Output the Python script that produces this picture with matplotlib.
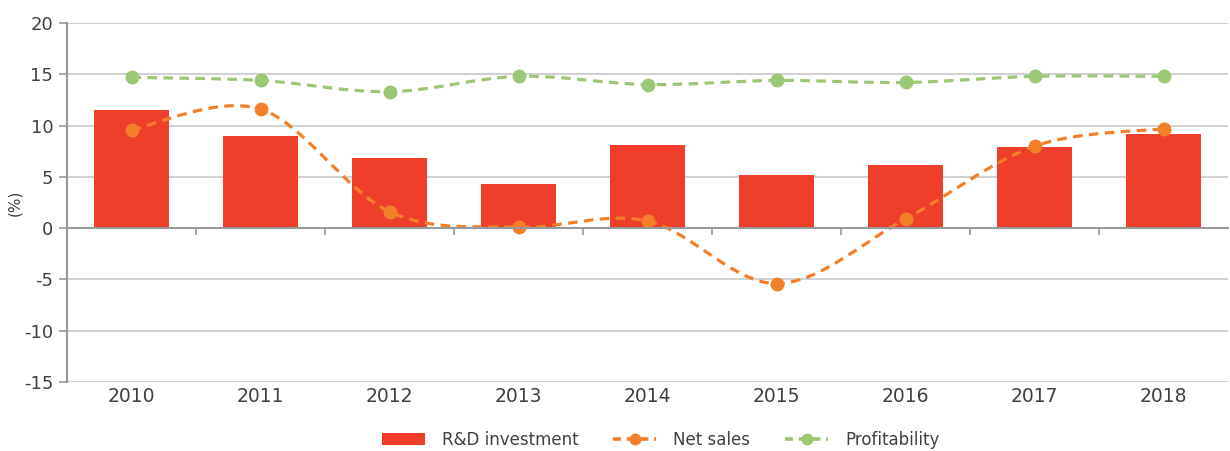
import numpy as np
import matplotlib
matplotlib.use("Agg")
import matplotlib.pyplot as plt
from matplotlib.path import Path
from matplotlib.patches import PathPatch, Patch
from matplotlib.lines import Line2D
from matplotlib.transforms import blended_transform_factory

years = ["2010", "2011", "2012", "2013", "2014", "2015", "2016", "2017", "2018"]
rd_investment = [11.5, 9.0, 6.8, 4.3, 8.1, 5.2, 6.2, 7.9, 9.2]
net_sales = [9.6, 11.6, 1.6, 0.1, 0.7, -5.4, 0.9, 8.0, 9.7]
profitability = [14.7, 14.4, 13.3, 14.8, 14.0, 14.4, 14.2, 14.8, 14.8]

c_bar = "#EF3F2B"
c_sales = "#F47F2B"
c_prof = "#9CC774"
txt = "#404040"


def smooth_path(x, y, t=1/6):
    # Excel-like smooth line: cubic Bezier segments with Catmull-Rom tangents
    x = np.asarray(x, float)
    y = np.asarray(y, float)
    n = len(x)
    verts = [(x[0], y[0])]
    codes = [Path.MOVETO]
    for i in range(n - 1):
        p0 = (x[i - 1], y[i - 1]) if i > 0 else (x[i], y[i])
        p1 = (x[i], y[i])
        p2 = (x[i + 1], y[i + 1])
        p3 = (x[i + 2], y[i + 2]) if i + 2 < n else (x[i + 1], y[i + 1])
        c1 = (p1[0] + (p2[0] - p0[0]) * t, p1[1] + (p2[1] - p0[1]) * t)
        c2 = (p2[0] - (p3[0] - p1[0]) * t, p2[1] - (p3[1] - p1[1]) * t)
        verts += [c1, c2, p2]
        codes += [Path.CURVE4] * 3
    return Path(verts, codes)


fig = plt.figure(figsize=(12.3, 4.51), dpi=100)
ax = fig.add_axes([0.0545, 0.153, 0.944, 0.796])

x = np.arange(len(years))
ax.bar(x, rd_investment, width=0.58, color=c_bar, zorder=2)

for vals, col in [(net_sales, c_sales), (profitability, c_prof)]:
    ax.add_patch(PathPatch(smooth_path(x, vals), fill=False, edgecolor=col,
                           lw=2.3, linestyle=(0, (3, 2)), zorder=3,
                           capstyle="butt"))
    ax.plot(x, vals, "o", color=col, ms=9, zorder=4)

ax.set_xlim(-0.5, len(years) - 0.5)
ax.set_ylim(-15, 20)
ax.set_yticks(np.arange(-15, 21, 5))
ax.set_yticklabels([str(v) for v in range(-15, 21, 5)])
ax.yaxis.grid(True, color="#C8C8C8", lw=1.2, zorder=0)
ax.set_axisbelow(True)

for s in ["top", "right"]:
    ax.spines[s].set_visible(False)
ax.spines["left"].set_color("#999999")
ax.spines["left"].set_linewidth(1.5)
ax.spines["bottom"].set_position(("data", 0))
ax.spines["bottom"].set_color("#999999")
ax.spines["bottom"].set_linewidth(1.5)
ax.spines["bottom"].set_zorder(5)

ax.set_xticks(x)
ax.set_xticks(np.arange(0.5, len(years) - 0.5, 1), minor=True)
ax.tick_params(axis="x", which="major", length=0)
ax.tick_params(axis="x", which="minor", length=5, color="#999999", width=1.2)
ax.set_xticklabels([])
ax.tick_params(axis="y", length=6, color="#999999", width=1.2, labelsize=13,
               labelcolor=txt, pad=4)

# year labels below the plot area
tr = blended_transform_factory(ax.transData, ax.transAxes)
for xi, yr in zip(x, years):
    ax.text(xi, -0.04, yr, transform=tr, ha="center", va="center",
            fontsize=13.5, color=txt)

ax.set_ylabel("(%)", fontsize=11, color=txt)
ax.yaxis.set_label_coords(-0.039, 0.5)

handles = [
    Patch(facecolor=c_bar, edgecolor="none"),
    Line2D([], [], color=c_sales, lw=2.6, linestyle=(0, (2.2, 1.6)), marker="o", ms=7.5),
    Line2D([], [], color=c_prof, lw=2.6, linestyle=(0, (2.2, 1.6)), marker="o", ms=7.5),
]
fig.legend(handles, ["R&D investment", "Net sales", "Profitability"],
           loc="center", bbox_to_anchor=(0.537, 0.025), ncol=3, frameon=False,
           prop={"size": 12}, labelcolor=txt, handlelength=2.6,
           handleheight=0.8, columnspacing=2.1, handletextpad=1.0)

fig.savefig("out.png", dpi=100)
